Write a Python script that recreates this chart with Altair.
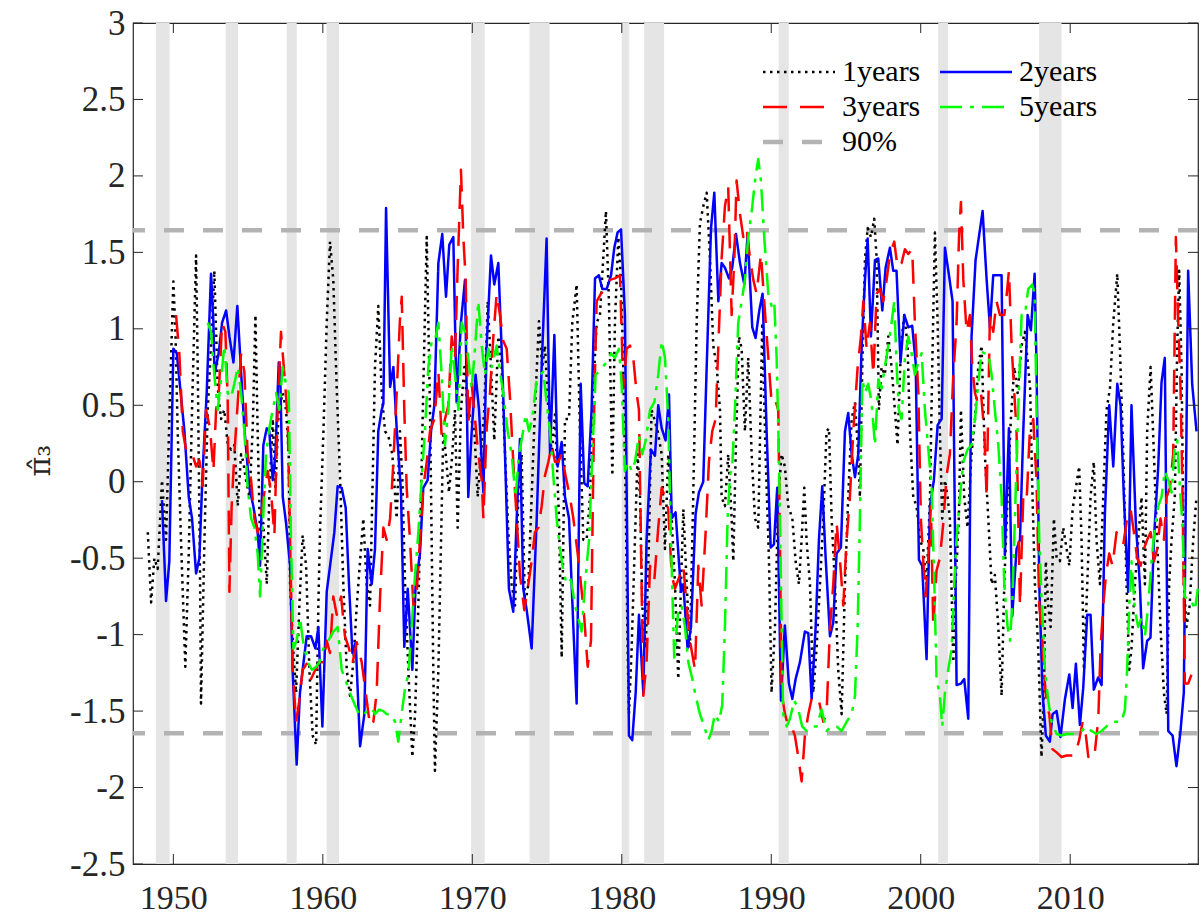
import altair as alt
import pandas as pd

# ---------------- data ----------------
series_names = ["1years", "2years", "3years", "5years", "90%"]

black_years = [1948.29, 1948.51, 1948.73, 1948.95, 1949.24, 1949.51, 1949.78, 1950.00, 1950.14, 1950.29, 1950.51, 1950.80, 1951.03, 1951.25, 1951.52, 1951.63, 1951.79, 1951.85, 1952.08, 1952.30, 1952.52, 1952.74, 1952.97, 1953.19, 1953.41, 1953.64, 1953.86, 1954.08, 1954.31, 1954.53, 1954.68, 1954.86, 1955.09, 1955.31, 1955.49, 1955.64, 1955.80, 1956.02, 1956.25, 1956.42, 1956.65, 1956.83, 1957.05, 1957.32, 1957.54, 1957.72, 1957.81, 1958.03, 1958.21, 1958.43, 1958.65, 1958.88, 1959.10, 1959.32, 1959.55, 1959.70, 1959.81, 1960.04, 1960.26, 1960.48, 1960.70, 1960.93, 1961.15, 1961.37, 1961.60, 1961.82, 1962.04, 1962.27, 1962.49, 1962.71, 1962.93, 1963.16, 1963.31, 1963.49, 1963.71, 1963.94, 1964.16, 1964.38, 1964.65, 1964.94, 1965.16, 1965.32, 1965.50, 1965.72, 1965.99, 1966.17, 1966.39, 1966.57, 1966.72, 1966.95, 1967.17, 1967.39, 1967.50, 1967.73, 1967.91, 1968.06, 1968.22, 1968.44, 1968.66, 1968.84, 1969.02, 1969.24, 1969.47, 1969.69, 1969.91, 1970.14, 1970.36, 1970.58, 1970.80, 1971.03, 1971.25, 1971.47, 1971.74, 1971.96, 1972.19, 1972.41, 1972.63, 1972.86, 1973.08, 1973.30, 1973.52, 1973.75, 1973.97, 1974.19, 1974.46, 1974.68, 1974.86, 1975.09, 1975.31, 1975.53, 1975.80, 1975.98, 1976.20, 1976.47, 1976.69, 1976.98, 1977.20, 1977.43, 1977.65, 1977.87, 1978.09, 1978.32, 1978.54, 1978.76, 1978.94, 1979.14, 1979.37, 1979.54, 1979.77, 1979.95, 1980.10, 1980.26, 1980.39, 1980.48, 1980.66, 1980.88, 1981.06, 1981.22, 1981.37, 1981.60, 1981.82, 1981.99, 1982.18, 1982.40, 1982.67, 1982.89, 1983.11, 1983.34, 1983.56, 1983.78, 1983.96, 1984.12, 1984.34, 1984.56, 1984.78, 1985.01, 1985.23, 1985.45, 1985.68, 1985.90, 1986.12, 1986.35, 1986.57, 1986.68, 1986.90, 1987.12, 1987.35, 1987.46, 1987.62, 1987.84, 1988.02, 1988.24, 1988.46, 1988.69, 1988.91, 1989.13, 1989.40, 1989.62, 1989.85, 1990.02, 1990.25, 1990.47, 1990.69, 1990.91, 1991.14, 1991.41, 1991.63, 1991.85, 1992.03, 1992.21, 1992.36, 1992.59, 1992.81, 1993.03, 1993.26, 1993.48, 1993.70, 1993.86, 1994.04, 1994.26, 1994.48, 1994.71, 1994.93, 1995.15, 1995.38, 1995.60, 1995.82, 1995.93, 1996.09, 1996.27, 1996.45, 1996.67, 1996.89, 1997.05, 1997.20, 1997.38, 1997.60, 1997.83, 1998.05, 1998.27, 1998.45, 1998.68, 1998.90, 1999.12, 1999.28, 1999.50, 1999.72, 1999.95, 2000.17, 2000.39, 2000.62, 2000.77, 2000.95, 2001.13, 2001.28, 2001.44, 2001.62, 2001.80, 2001.95, 2002.18, 2002.33, 2002.55, 2002.69, 2002.91, 2003.13, 2003.40, 2003.63, 2003.85, 2004.07, 2004.29, 2004.52, 2004.74, 2004.96, 2005.19, 2005.41, 2005.59, 2005.81, 2006.03, 2006.26, 2006.48, 2006.75, 2006.97, 2007.19, 2007.32, 2007.48, 2007.64, 2007.86, 2008.08, 2008.24, 2008.37, 2008.53, 2008.69, 2008.91, 2009.09, 2009.31, 2009.53, 2009.76, 2009.94, 2010.16, 2010.38, 2010.60, 2010.76, 2010.92, 2011.14, 2011.36, 2011.58, 2011.76, 2011.99, 2012.21, 2012.43, 2012.66, 2012.88, 2013.15, 2013.32, 2013.55, 2013.77, 2013.95, 2014.10, 2014.33, 2014.55, 2014.77, 2015.00, 2015.15, 2015.38, 2015.60, 2015.82, 2016.04, 2016.27, 2016.45, 2016.62, 2016.78, 2017.00, 2017.16, 2017.29, 2017.45, 2017.61, 2017.78, 2017.99, 2018.23, 2018.45]
black_vals = [-0.33, -0.79, -0.50, -0.57, 0.01, -0.38, 0.58, 1.31, 0.98, 0.33, -0.38, -1.21, -0.47, 0.47, 1.48, 0.75, -0.67, -1.45, -0.38, 0.47, 0.89, 1.38, 0.61, 0.41, 0.47, 0.24, 0.21, 0.24, -0.16, 0.18, 0.13, 0.01, -0.10, 0.35, 1.09, 0.33, -0.38, -0.27, -0.67, -0.10, 0.41, -0.04, 0.47, 0.58, 0.47, 0.18, -0.67, -1.12, -1.38, -0.81, -0.35, -0.55, -1.23, -1.66, -1.72, -0.81, -0.33, 0.33, 1.04, 1.57, 1.32, 0.61, 0.04, -0.67, -1.23, -1.40, -1.18, -0.81, -0.52, -0.24, -0.67, -0.81, -0.10, 0.75, 1.15, 0.58, 0.33, 0.30, 0.18, -0.24, 0.33, 0.01, -0.67, -1.23, -1.80, -1.52, -0.81, -0.10, 0.61, 1.60, 0.47, -1.23, -1.89, -1.23, -0.38, 0.33, 0.18, -0.07, 0.18, 0.47, -0.30, 0.47, 0.75, 0.47, 0.41, 0.33, -0.10, 0.18, 0.47, 1.18, 0.75, 0.27, 0.95, 0.75, 0.18, -0.33, -0.67, -0.81, -0.10, 0.18, -0.81, -0.67, -0.10, 0.47, 1.05, 0.75, 0.89, 0.47, 0.18, 0.44, -0.24, -1.15, 0.41, 0.41, 1.04, 1.29, 0.33, -0.38, -0.38, -0.10, 0.61, 1.04, 1.09, 1.46, 1.77, 1.18, 0.04, 1.04, 1.60, 1.32, 0.75, -0.10, -1.09, -1.52, -1.09, -0.38, 0.18, -0.10, -0.81, -1.09, -0.38, 0.47, 0.41, 0.33, 0.18, -0.44, 0.18, -0.24, -0.67, -1.29, -0.67, -0.18, -0.67, -1.09, -0.10, 1.04, 1.69, 1.80, 1.89, 1.46, 0.89, 0.75, 0.47, -0.10, -0.16, 0.18, -0.24, -0.52, 0.18, 0.95, 0.87, 0.33, 0.81, 0.18, -0.24, -0.30, 1.04, 0.18, -0.52, -1.38, -0.95, -0.10, 0.18, 0.10, -0.16, -0.24, -0.52, -0.67, -0.38, -0.04, -0.38, -0.67, -1.38, -1.09, -0.67, -0.24, 0.33, 0.35, -0.24, -0.67, -1.23, -1.52, -0.67, -0.10, 0.41, 0.52, 0.18, -0.10, 0.75, 1.46, 1.66, 1.60, 1.72, 1.46, 0.47, 0.75, 0.70, 0.95, 0.75, 0.47, 0.24, 0.89, 1.09, 0.89, 0.33, -0.10, -0.16, -0.38, -0.44, -0.67, -0.10, 0.75, 1.63, 1.04, 0.33, -0.24, 0.01, -0.10, -0.24, -1.18, -0.67, -0.24, 0.47, -0.10, -0.30, 0.18, 0.41, 0.75, 0.89, 0.18, -0.24, -0.67, -0.61, -0.95, -1.40, -0.67, -0.10, 0.41, 0.75, 0.58, 0.89, 0.98, 0.75, 0.61, -0.10, -0.67, -1.09, -1.80, -1.38, -0.52, -0.81, -0.95, -0.24, -0.50, -0.52, -0.30, -0.44, -0.55, -0.18, -0.04, 0.10, -0.38, -1.23, -0.67, -0.10, 0.13, -0.38, -0.67, -0.10, 0.47, 0.61, 1.04, 1.36, 0.89, 0.18, -0.67, -1.23, -1.09, -0.67, -0.38, -0.10, -0.67, 0.33, 0.75, 0.18, -0.38, -0.95, -1.38, -1.52, -0.67, -0.38, -0.10, 0.89, 1.38, 0.75, -0.67, -0.95, -0.81, -0.38, -0.10]

blue_years = [1949.24, 1949.51, 1949.73, 1950.00, 1950.23, 1950.74, 1951.03, 1951.25, 1951.52, 1951.74, 1951.96, 1952.23, 1952.52, 1952.68, 1952.75, 1953.03, 1953.26, 1953.53, 1953.75, 1954.02, 1954.28, 1954.46, 1954.75, 1955.09, 1955.35, 1955.64, 1955.80, 1956.02, 1956.25, 1956.42, 1956.65, 1956.83, 1957.05, 1957.14, 1957.32, 1957.54, 1957.81, 1957.98, 1958.25, 1958.47, 1958.65, 1958.92, 1959.21, 1959.50, 1959.70, 1959.97, 1960.26, 1960.55, 1960.77, 1960.99, 1961.26, 1961.53, 1961.75, 1961.98, 1962.20, 1962.49, 1962.78, 1963.00, 1963.27, 1963.49, 1963.71, 1963.94, 1964.05, 1964.23, 1964.50, 1964.72, 1964.94, 1965.23, 1965.45, 1965.68, 1965.99, 1966.21, 1966.50, 1966.72, 1967.01, 1967.24, 1967.46, 1967.73, 1967.99, 1968.24, 1968.46, 1968.73, 1968.95, 1969.24, 1969.51, 1969.73, 1969.96, 1970.22, 1970.45, 1970.74, 1970.96, 1971.25, 1971.47, 1971.74, 1972.01, 1972.23, 1972.45, 1972.74, 1972.97, 1973.19, 1973.41, 1973.64, 1973.97, 1974.31, 1974.64, 1974.97, 1975.20, 1975.49, 1975.71, 1975.98, 1976.20, 1976.47, 1976.76, 1976.98, 1977.25, 1977.49, 1977.72, 1977.98, 1978.21, 1978.47, 1978.70, 1978.99, 1979.28, 1979.50, 1979.72, 1979.95, 1980.21, 1980.39, 1980.48, 1980.70, 1980.93, 1981.15, 1981.44, 1981.66, 1981.95, 1982.22, 1982.44, 1982.67, 1982.93, 1983.16, 1983.34, 1983.60, 1983.96, 1984.12, 1984.40, 1984.63, 1984.94, 1985.16, 1985.45, 1985.68, 1985.97, 1986.19, 1986.46, 1986.68, 1986.90, 1987.17, 1987.39, 1987.64, 1987.91, 1988.20, 1988.42, 1988.73, 1988.95, 1989.20, 1989.42, 1989.69, 1989.96, 1990.18, 1990.40, 1990.65, 1990.91, 1991.18, 1991.41, 1991.63, 1991.92, 1992.25, 1992.48, 1992.70, 1992.97, 1993.19, 1993.41, 1993.64, 1993.93, 1994.15, 1994.37, 1994.66, 1994.93, 1995.15, 1995.38, 1995.60, 1995.82, 1996.05, 1996.27, 1996.45, 1996.67, 1996.94, 1997.16, 1997.43, 1997.65, 1997.94, 1998.16, 1998.38, 1998.65, 1998.90, 1999.17, 1999.43, 1999.66, 1999.88, 2000.10, 2000.39, 2000.62, 2000.88, 2001.13, 2001.40, 2001.62, 2001.89, 2002.13, 2002.40, 2002.69, 2002.91, 2003.18, 2003.40, 2003.67, 2003.89, 2004.14, 2004.41, 2004.63, 2004.85, 2005.14, 2005.41, 2005.63, 2005.90, 2006.12, 2006.41, 2006.64, 2006.86, 2007.15, 2007.37, 2007.62, 2007.75, 2007.93, 2008.15, 2008.37, 2008.64, 2008.82, 2009.09, 2009.35, 2009.65, 2009.94, 2010.16, 2010.38, 2010.65, 2010.87, 2011.14, 2011.36, 2011.58, 2011.87, 2012.10, 2012.32, 2012.61, 2012.88, 2013.15, 2013.37, 2013.59, 2013.88, 2014.10, 2014.39, 2014.66, 2014.88, 2015.15, 2015.37, 2015.60, 2015.89, 2016.11, 2016.33, 2016.56, 2016.85, 2017.11, 2017.38, 2017.60, 2017.89, 2018.16, 2018.45]
blue_vals = [-0.12, -0.78, -0.52, 0.87, 0.84, 0.33, -0.10, -0.24, -0.60, -0.50, 0.07, 0.58, 1.36, 1.04, 0.70, 0.84, 1.04, 1.12, 0.95, 0.78, 1.15, 0.84, 0.35, -0.04, -0.16, -0.33, -0.55, 0.24, 0.35, 0.33, 0.01, 0.18, 0.78, 0.75, -0.10, -0.27, -0.55, -1.23, -1.85, -1.38, -1.23, -1.01, -1.01, -1.09, -0.95, -1.60, -0.72, -0.50, -0.33, -0.03, -0.04, -0.17, -0.67, -1.12, -1.05, -1.73, -1.52, -0.44, -0.67, -0.44, 0.33, 0.47, 0.51, 1.79, 0.62, 0.75, 0.35, -0.07, -1.08, -0.70, -1.23, -0.67, -0.47, -0.04, 0.01, 0.33, 0.50, 1.43, 1.62, 1.21, 1.55, 1.60, 0.52, 1.04, 1.32, -0.10, 0.33, 0.70, 0.47, -0.07, 0.89, 1.48, 1.29, 1.43, 0.75, 0.04, -0.70, -0.85, -0.24, 0.28, -0.70, -0.84, -1.09, -0.24, 0.75, 1.59, 0.18, 0.96, 0.10, 0.26, -0.10, -0.24, -0.95, -1.45, 0.64, -0.01, -0.03, 0.47, 1.33, 1.35, 1.26, 1.26, 1.35, 1.53, 1.63, 1.65, 1.09, -0.67, -1.66, -1.69, -1.38, -0.87, -1.38, -0.38, 0.21, 0.17, 0.50, 0.35, 0.27, 0.57, -0.24, -0.20, -0.72, -0.67, -1.09, -0.95, -0.21, -0.07, 0.00, 0.75, 1.66, 1.89, 1.18, 1.43, 1.40, 1.33, 1.40, 1.62, 1.43, 1.29, 1.62, 1.01, 0.94, 1.12, 1.23, 0.33, -0.43, -0.41, -0.04, -1.43, -0.94, -1.32, -1.42, -1.29, -1.18, -0.98, -0.99, -1.42, -0.95, -0.38, -0.03, -0.50, -1.01, -0.92, -0.47, -0.43, 0.33, 0.45, 0.18, 0.03, 0.18, 0.89, 1.32, 1.59, 0.95, 1.45, 1.46, 1.12, 1.40, 1.53, 1.38, 1.38, 0.78, 1.09, 1.01, 1.02, 0.78, -0.51, -0.55, -1.16, -0.16, 0.01, 0.37, 0.41, 1.53, 1.35, 1.18, -1.33, -1.32, -1.29, -1.55, 0.95, 1.45, 1.60, 1.77, 1.32, 1.01, 1.35, 1.35, 1.35, -0.48, 0.35, -0.88, -0.44, -0.38, 0.33, 1.09, 0.99, 1.36, 0.75, -0.67, -1.38, -1.66, -1.70, -1.52, -1.50, -1.67, -1.42, -1.26, -1.48, -1.19, -1.59, -1.35, -0.87, -0.87, -1.36, -1.28, -1.33, -0.21, 0.50, 0.10, 0.64, 0.50, -0.10, -0.72, 0.50, -0.27, -0.67, -1.22, -1.04, -1.02, -0.38, 0.10, 0.65, 0.81, -1.63, -1.66, -1.86, -1.63, -1.38, 1.38, 0.64, 0.33]

red_years = [1950.18, 1950.40, 1950.63, 1950.85, 1951.18, 1951.52, 1951.74, 1951.96, 1952.19, 1952.45, 1952.68, 1952.86, 1953.04, 1953.26, 1953.48, 1953.64, 1953.75, 1953.90, 1954.08, 1954.31, 1954.53, 1954.75, 1954.97, 1955.20, 1955.42, 1955.64, 1955.87, 1956.09, 1956.31, 1956.54, 1956.76, 1956.98, 1957.20, 1957.43, 1957.65, 1957.81, 1957.98, 1958.21, 1958.43, 1958.65, 1958.92, 1959.21, 1959.50, 1959.77, 1960.04, 1960.26, 1960.48, 1960.70, 1960.93, 1961.22, 1961.48, 1961.75, 1961.98, 1962.27, 1962.60, 1962.87, 1963.16, 1963.38, 1963.60, 1963.83, 1964.05, 1964.27, 1964.50, 1964.72, 1964.94, 1965.16, 1965.28, 1965.45, 1965.61, 1965.83, 1966.06, 1966.28, 1966.50, 1966.72, 1966.95, 1967.17, 1967.46, 1967.73, 1967.95, 1968.17, 1968.40, 1968.62, 1968.84, 1969.02, 1969.24, 1969.40, 1969.56, 1969.73, 1969.96, 1970.18, 1970.40, 1970.63, 1970.74, 1970.96, 1971.18, 1971.41, 1971.63, 1971.85, 1972.07, 1972.30, 1972.52, 1972.74, 1972.97, 1973.19, 1973.48, 1973.75, 1973.97, 1974.19, 1974.42, 1974.64, 1974.86, 1975.09, 1975.31, 1975.53, 1975.75, 1975.98, 1976.24, 1976.53, 1976.76, 1977.05, 1977.27, 1977.49, 1977.72, 1977.94, 1978.03, 1978.16, 1978.32, 1978.61, 1978.88, 1979.21, 1979.54, 1979.88, 1980.10, 1980.32, 1980.55, 1980.77, 1980.99, 1981.15, 1981.28, 1981.44, 1981.66, 1981.89, 1982.18, 1982.44, 1982.67, 1982.89, 1983.11, 1983.34, 1983.56, 1983.78, 1984.12, 1984.34, 1984.56, 1984.90, 1985.12, 1985.34, 1985.61, 1985.83, 1986.05, 1986.28, 1986.46, 1986.68, 1986.90, 1987.12, 1987.35, 1987.53, 1987.68, 1987.91, 1988.13, 1988.35, 1988.58, 1988.80, 1989.02, 1989.31, 1989.53, 1989.76, 1990.02, 1990.25, 1990.47, 1990.58, 1990.69, 1990.92, 1991.14, 1991.36, 1991.58, 1991.81, 1992.03, 1992.25, 1992.48, 1992.70, 1992.92, 1993.19, 1993.48, 1993.70, 1993.93, 1994.15, 1994.37, 1994.59, 1994.82, 1995.04, 1995.26, 1995.49, 1995.78, 1996.00, 1996.16, 1996.38, 1996.60, 1996.83, 1997.05, 1997.27, 1997.49, 1997.72, 1997.94, 1998.23, 1998.45, 1998.72, 1998.94, 1999.17, 1999.43, 1999.61, 1999.84, 2000.01, 2000.17, 2000.33, 2000.50, 2000.68, 2000.84, 2001.06, 2001.28, 2001.51, 2001.73, 2001.95, 2002.18, 2002.40, 2002.56, 2002.69, 2002.85, 2003.07, 2003.29, 2003.45, 2003.63, 2003.80, 2004.03, 2004.25, 2004.41, 2004.63, 2004.85, 2005.07, 2005.30, 2005.59, 2005.74, 2005.90, 2006.08, 2006.26, 2006.41, 2006.64, 2006.86, 2007.08, 2007.30, 2007.53, 2007.75, 2007.93, 2008.08, 2008.24, 2008.42, 2008.60, 2008.82, 2009.09, 2009.42, 2009.76, 2010.09, 2010.31, 2010.60, 2010.83, 2011.05, 2011.21, 2011.43, 2011.65, 2011.88, 2012.03, 2012.21, 2012.39, 2012.61, 2012.83, 2013.10, 2013.32, 2013.55, 2013.81, 2014.04, 2014.26, 2014.48, 2014.71, 2014.93, 2015.15, 2015.38, 2015.60, 2015.82, 2016.04, 2016.27, 2016.45, 2016.67, 2016.89, 2017.07, 2017.23, 2017.38, 2017.52, 2017.67, 2017.89, 2018.12, 2018.45]
red_vals = [1.09, 0.84, 0.33, 0.21, 0.21, 0.10, 0.14, -0.03, 0.47, 0.35, 0.07, 0.47, 0.58, 1.04, 0.98, 0.52, -0.72, -0.16, 0.18, 0.52, 0.84, 0.72, 0.18, 0.01, -0.24, -0.33, -0.21, -0.07, 0.07, -0.07, -0.35, 0.47, 0.98, 0.70, 0.41, -0.38, -1.23, -1.57, -1.43, -1.23, -1.19, -1.29, -1.23, -1.18, -1.18, -1.04, -1.12, -0.75, -0.87, -0.75, -1.01, -1.09, -1.19, -1.05, -1.18, -1.38, -1.60, -1.57, -1.38, -0.75, -0.30, -0.38, -0.24, 0.13, 0.58, 1.06, 1.21, 0.47, -0.04, -0.38, -0.81, -0.72, -0.38, -0.04, 0.13, 0.33, 0.41, 0.72, 0.30, 0.41, 0.50, 0.95, 0.81, 1.40, 2.04, 1.60, 1.32, 0.38, 0.64, 0.41, 0.18, 0.01, -0.24, 0.35, 0.58, 0.95, 1.23, 1.09, 0.92, 0.87, 0.55, 0.13, -0.24, -0.61, -0.84, -0.67, -0.52, -0.33, -0.30, -0.16, 0.04, 0.13, 0.24, 0.13, 0.13, 0.18, 0.04, -0.10, -0.24, -0.47, -0.67, -0.89, -1.21, -1.04, -0.38, 0.52, 1.18, 1.23, 1.26, 1.32, 1.33, 1.35, 0.61, 0.87, 0.89, 0.81, 0.58, 0.47, -0.38, -1.40, -1.18, -0.55, -0.64, -0.30, -0.04, -0.10, -0.18, -0.61, -0.70, -0.64, -0.55, -0.81, -1.04, -1.23, -0.55, -0.81, -0.33, 0.13, 0.33, 0.41, 0.89, 1.46, 1.80, 1.93, 1.09, 1.46, 1.97, 1.75, 1.60, 1.66, 1.46, 1.32, 1.23, 1.49, 1.18, 0.87, 0.52, 0.54, 0.47, -0.38, -1.38, -1.52, -1.60, -1.60, -1.66, -1.80, -1.96, -1.66, -1.52, -1.42, -1.45, -1.43, -1.57, -1.52, -0.95, -0.67, -0.27, -0.50, -0.81, -0.38, -0.10, 0.33, 0.75, 0.95, 1.18, 0.87, 1.04, 0.70, 1.23, 1.26, 1.18, 1.32, 1.49, 1.57, 1.40, 1.43, 1.52, 1.49, 1.52, 1.04, 0.58, -0.24, -0.52, -0.75, -0.52, -0.16, -0.95, -0.58, -0.50, -0.27, 0.04, 0.18, 0.70, 1.04, 1.60, 1.83, 1.32, 0.98, 1.09, 0.75, 0.58, 0.52, 0.58, 0.33, -0.10, 1.09, 0.98, 1.18, 1.09, 1.09, 1.21, 1.38, 0.89, 0.58, 0.33, -0.81, -0.10, -0.13, 0.33, 0.41, 0.00, -0.81, -0.95, -1.23, -1.46, -1.52, -1.75, -1.77, -1.80, -1.79, -1.79, -1.79, -1.69, -1.57, -1.66, -1.80, -1.75, -1.77, -1.55, -1.09, -0.81, -0.61, -0.47, -0.55, -0.33, -0.38, -0.41, -0.24, -0.18, -0.33, -0.50, -0.55, -0.44, -0.38, -0.33, -0.52, -0.44, -0.24, -0.38, -0.10, -0.04, 0.18, 1.60, 1.04, 0.61, -0.10, -1.32, -1.32, -1.26, -1.21]

green_years = [1952.30, 1952.52, 1952.74, 1952.97, 1953.19, 1953.41, 1953.64, 1953.86, 1954.08, 1954.31, 1954.53, 1954.75, 1954.97, 1955.20, 1955.42, 1955.64, 1955.80, 1955.98, 1956.20, 1956.42, 1956.65, 1956.87, 1957.09, 1957.31, 1957.54, 1957.72, 1957.87, 1958.03, 1958.25, 1958.47, 1958.70, 1958.99, 1959.28, 1959.55, 1959.77, 1960.04, 1960.37, 1960.70, 1960.99, 1961.26, 1961.60, 1961.89, 1962.15, 1962.42, 1962.71, 1963.00, 1963.27, 1963.49, 1963.76, 1964.05, 1964.27, 1964.56, 1964.83, 1965.05, 1965.27, 1965.50, 1965.72, 1965.94, 1966.17, 1966.39, 1966.61, 1966.84, 1967.06, 1967.28, 1967.50, 1967.73, 1967.95, 1968.17, 1968.40, 1968.62, 1968.84, 1969.07, 1969.29, 1969.51, 1969.73, 1969.96, 1970.18, 1970.40, 1970.63, 1970.85, 1971.07, 1971.30, 1971.63, 1971.85, 1972.07, 1972.37, 1972.63, 1972.90, 1973.12, 1973.35, 1973.57, 1973.79, 1974.01, 1974.31, 1974.53, 1974.75, 1974.97, 1975.20, 1975.42, 1975.64, 1975.87, 1976.09, 1976.31, 1976.60, 1976.87, 1977.09, 1977.31, 1977.54, 1977.81, 1978.03, 1978.25, 1978.47, 1978.70, 1978.99, 1979.28, 1979.54, 1979.81, 1979.99, 1980.21, 1980.44, 1980.66, 1980.88, 1981.15, 1981.37, 1981.60, 1981.89, 1982.18, 1982.44, 1982.67, 1982.89, 1983.11, 1983.29, 1983.51, 1983.78, 1984.00, 1984.23, 1984.45, 1984.72, 1984.94, 1985.23, 1985.52, 1985.79, 1986.01, 1986.23, 1986.50, 1986.72, 1986.90, 1987.08, 1987.24, 1987.39, 1987.57, 1987.79, 1988.02, 1988.24, 1988.46, 1988.73, 1988.95, 1989.13, 1989.31, 1989.53, 1989.80, 1990.02, 1990.20, 1990.36, 1990.51, 1990.65, 1990.80, 1991.03, 1991.25, 1991.54, 1991.81, 1992.07, 1992.36, 1992.70, 1993.03, 1993.37, 1993.70, 1994.04, 1994.37, 1994.71, 1995.04, 1995.38, 1995.60, 1995.78, 1995.93, 1996.09, 1996.27, 1996.49, 1996.71, 1996.94, 1997.16, 1997.38, 1997.60, 1997.83, 1998.05, 1998.23, 1998.39, 1998.54, 1998.72, 1998.94, 1999.17, 1999.39, 1999.61, 1999.84, 2000.06, 2000.28, 2000.51, 2000.73, 2000.91, 2001.06, 2001.28, 2001.44, 2001.62, 2001.84, 2002.07, 2002.24, 2002.40, 2002.62, 2002.85, 2003.13, 2003.40, 2003.63, 2003.85, 2004.07, 2004.29, 2004.52, 2004.74, 2004.96, 2005.19, 2005.41, 2005.59, 2005.81, 2005.97, 2006.12, 2006.30, 2006.52, 2006.75, 2006.97, 2007.19, 2007.46, 2007.62, 2007.75, 2007.93, 2008.08, 2008.31, 2008.53, 2008.75, 2009.09, 2009.42, 2009.76, 2010.09, 2010.43, 2010.76, 2011.09, 2011.43, 2011.76, 2012.10, 2012.43, 2012.77, 2013.10, 2013.44, 2013.66, 2013.81, 2013.95, 2014.10, 2014.33, 2014.55, 2014.77, 2015.00, 2015.22, 2015.44, 2015.66, 2015.89, 2016.11, 2016.33, 2016.56, 2016.78, 2017.00, 2017.16, 2017.34, 2017.52, 2017.67, 2017.89, 2018.12, 2018.34, 2018.54]
green_vals = [1.04, 0.98, 0.70, 0.47, 0.67, 0.89, 0.58, 0.55, 0.64, 0.75, 0.58, 0.33, -0.04, -0.24, -0.30, -0.47, -0.75, -0.30, 0.18, 0.35, 0.47, 0.58, 0.47, 0.75, 0.64, 0.58, -0.38, -1.09, -1.04, -0.89, -1.06, -1.18, -1.23, -1.21, -1.18, -1.09, -1.04, -0.98, -0.95, -1.23, -1.32, -1.40, -1.46, -1.52, -1.53, -1.49, -1.48, -1.52, -1.49, -1.50, -1.52, -1.52, -1.57, -1.70, -1.52, -1.35, -1.26, -0.95, -0.61, -0.33, 0.01, 0.35, 0.75, 0.92, 0.92, 1.04, 0.70, 0.24, 0.47, 0.89, 0.70, 0.47, 1.04, 0.98, 0.81, 0.61, 0.87, 1.18, 0.89, 0.70, 0.87, 0.75, 0.89, 0.72, 0.58, 0.33, 0.18, -0.10, 0.18, 0.30, 0.44, 0.33, 0.41, 0.67, 0.70, 0.72, 0.52, 0.33, 0.04, -0.24, -0.44, -0.58, -0.67, -0.64, -0.81, -0.89, -0.98, -0.67, -0.38, 0.18, 0.70, 0.72, 0.75, 0.78, 0.84, 0.81, 0.87, 0.64, 0.07, 0.13, 0.07, 0.13, 0.30, 0.18, 0.27, 0.47, 0.52, 0.70, 0.92, 0.81, 0.41, -0.38, -1.15, -0.84, -0.81, -0.95, -1.18, -1.29, -1.40, -1.52, -1.60, -1.69, -1.63, -1.52, -1.57, -1.46, -0.95, -0.24, 0.04, 0.10, 0.47, 1.04, 1.18, 1.32, 1.60, 1.80, 2.00, 2.11, 1.97, 1.60, 1.23, 1.15, 1.18, 0.81, 0.18, -0.67, -1.52, -1.60, -1.55, -1.43, -1.49, -1.60, -1.63, -1.60, -1.60, -1.49, -1.63, -1.60, -1.60, -1.63, -1.57, -1.52, -1.40, -0.95, -0.24, 0.67, 0.58, 0.64, 0.52, 0.24, 0.67, 0.61, 0.75, 0.89, 1.04, 1.18, 0.75, 0.47, 0.41, 0.81, 0.95, 0.84, 0.70, 0.78, 0.84, 0.47, 0.21, -0.04, -0.67, -1.29, -1.40, -1.60, -1.38, -1.23, -1.09, -0.67, -0.38, -0.10, 0.13, 0.21, 0.24, 0.41, 0.64, 0.85, 0.84, 0.84, 0.70, 0.47, 0.24, -0.10, -0.67, -0.95, -1.04, -0.81, -0.24, 0.47, 1.09, 1.09, 1.26, 1.29, 1.23, 0.47, -0.38, -0.75, -1.23, -1.43, -1.57, -1.65, -1.66, -1.65, -1.65, -1.65, -1.63, -1.60, -1.63, -1.65, -1.63, -1.60, -1.57, -1.57, -1.57, -1.49, -1.23, -0.81, -0.52, -0.84, -0.95, -0.89, -1.01, -0.81, -0.52, -0.30, -0.16, -0.10, 0.07, 0.01, -0.07, 0.24, 0.27, -0.04, -0.30, -0.75, -0.78, -0.78, -0.84, -0.70]

crit_values = [1.645, -1.645]

rec_start = [1948.83, 1953.50, 1957.58, 1960.25, 1969.92, 1973.83, 1980.00, 1981.50, 1990.50, 2001.17, 2007.92]
rec_end = [1949.75, 1954.33, 1958.25, 1961.08, 1970.83, 1975.17, 1980.50, 1982.83, 1991.17, 2001.83, 2009.42]

x_tick_values = [1950, 1960, 1970, 1980, 1990, 2000, 2010]
y_tick_values = [-2.5, -2.0, -1.5, -1.0, -0.5, 0.0, 0.5, 1.0, 1.5, 2.0, 2.5, 3.0]

# ---------------- styling ----------------
X_MIN, X_MAX = 1947.3, 2018.55
Y_MIN, Y_MAX = -2.5, 3.0
W, H = 1065, 841
TICK_X = 10 * (X_MAX - X_MIN) / W
TICK_Y = 10 * (Y_MAX - Y_MIN) / H
FONT = "Liberation Serif"
AX = "#262626"

colors = ["#000000", "#0000FF", "#FF0000", "#00FF00", "#B3B3B3"]
dashes = [[2.5, 4.5], [1, 0], [24, 13], [22, 8, 4, 8], [20, 19]]
widths = [2.5, 2.5, 2.5, 2.5, 4.5]

# ---------------- tables ----------------
rows = []
for name, ys_, vs_ in [("1years", black_years, black_vals), ("2years", blue_years, blue_vals),
                       ("3years", red_years, red_vals), ("5years", green_years, green_vals)]:
    for i, (t, v) in enumerate(zip(ys_, vs_)):
        rows.append({"series": name, "year": t, "value": v, "idx": i})
df = pd.DataFrame(rows)
crit_df = pd.DataFrame({"series": ["90%"] * len(crit_values), "value": crit_values})
rec_df = pd.DataFrame({"start": rec_start, "end": rec_end})
xt_df = pd.DataFrame({"t": x_tick_values})
yt_df = pd.DataFrame({"t": y_tick_values})

xs = alt.Scale(domain=[X_MIN, X_MAX], nice=False, zero=False)
ys = alt.Scale(domain=[Y_MIN, Y_MAX], nice=False, zero=False)

xaxis = alt.Axis(values=x_tick_values, format="d", title=None, grid=False, domain=False,
                 ticks=False, tickSize=0, labelFont=FONT, labelFontSize=34, labelColor=AX,
                 labelPadding=17, labelFlush=False, labelOverlap=False)
yaxis = alt.Axis(values=y_tick_values, labelExpr="'' + datum.value", grid=False, domain=False,
                 ticks=False, tickSize=0, labelFont=FONT, labelFontSize=35, labelColor=AX,
                 labelPadding=8, labelOverlap=False, labelFlush=False,
                 title="π̂₃", titleFont="DejaVu Serif", titleFontSize=30, titleFontWeight="normal",
                 titleColor=AX, titleAngle=270, titleX=-93, titleY=437,
                 titleAlign="center", titleBaseline="middle")

legend = alt.Legend(title=None, orient="none", legendX=651, legendY=34, columns=2,
                    direction="horizontal",
                    symbolType="M-3,0H3", symbolSize=576, labelOffset=28, columnPadding=14,
                    rowPadding=5, labelFont=FONT, labelFontSize=30, labelColor="#000000",
                    padding=0, labelLimit=300)

color_enc = alt.Color("series:N", scale=alt.Scale(domain=series_names, range=colors), legend=legend)
dash_enc = alt.StrokeDash("series:N", scale=alt.Scale(domain=series_names, range=dashes), legend=legend)
width_enc = alt.StrokeWidth("series:N", scale=alt.Scale(type="ordinal", domain=series_names, range=widths), legend=legend)

rects = alt.Chart(rec_df).mark_rect(color="#E5E5E5").encode(
    x=alt.X("start:Q", scale=xs, axis=xaxis),
    x2="end:Q",
    y=alt.YDatum(Y_MAX, type="quantitative", scale=ys, axis=yaxis),
    y2=alt.Y2Datum(Y_MIN),
)

crit = alt.Chart(crit_df).mark_rule(strokeCap="butt").encode(
    y=alt.Y("value:Q", scale=ys, axis=yaxis),
    color=color_enc, strokeDash=dash_enc, strokeWidth=width_enc,
)

lines = alt.Chart(df).mark_line(strokeCap="butt", strokeJoin="round").encode(
    x=alt.X("year:Q", scale=xs, axis=xaxis),
    y=alt.Y("value:Q", scale=ys, axis=yaxis),
    color=color_enc, strokeDash=dash_enc, strokeWidth=width_enc,
    order="idx:Q",
)

xt_bottom = alt.Chart(xt_df).mark_rule(color=AX, strokeWidth=1).encode(
    x=alt.X("t:Q", scale=xs, axis=xaxis),
    y=alt.YDatum(Y_MIN, type="quantitative", scale=ys, axis=yaxis),
    y2=alt.Y2Datum(Y_MIN + TICK_Y),
)
xt_top = alt.Chart(xt_df).mark_rule(color=AX, strokeWidth=1).encode(
    x=alt.X("t:Q", scale=xs, axis=xaxis),
    y=alt.YDatum(Y_MAX, type="quantitative", scale=ys, axis=yaxis),
    y2=alt.Y2Datum(Y_MAX - TICK_Y),
)
yt_left = alt.Chart(yt_df).mark_rule(color=AX, strokeWidth=1).encode(
    y=alt.Y("t:Q", scale=ys, axis=yaxis),
    x=alt.XDatum(X_MIN, type="quantitative", scale=xs, axis=xaxis),
    x2=alt.X2Datum(X_MIN + TICK_X),
)
yt_right = alt.Chart(yt_df).mark_rule(color=AX, strokeWidth=1).encode(
    y=alt.Y("t:Q", scale=ys, axis=yaxis),
    x=alt.XDatum(X_MAX, type="quantitative", scale=xs, axis=xaxis),
    x2=alt.X2Datum(X_MAX - TICK_X),
)

chart = alt.layer(rects, crit, lines, xt_bottom, xt_top, yt_left, yt_right).properties(
    width=W, height=H, autosize="none",
    padding={"left": 133, "top": 23, "right": 3, "bottom": 53},
    background="white",
).configure_view(stroke=AX, strokeWidth=1.2)

chart.save("out.html", embed_options={"renderer": "svg", "actions": False})
